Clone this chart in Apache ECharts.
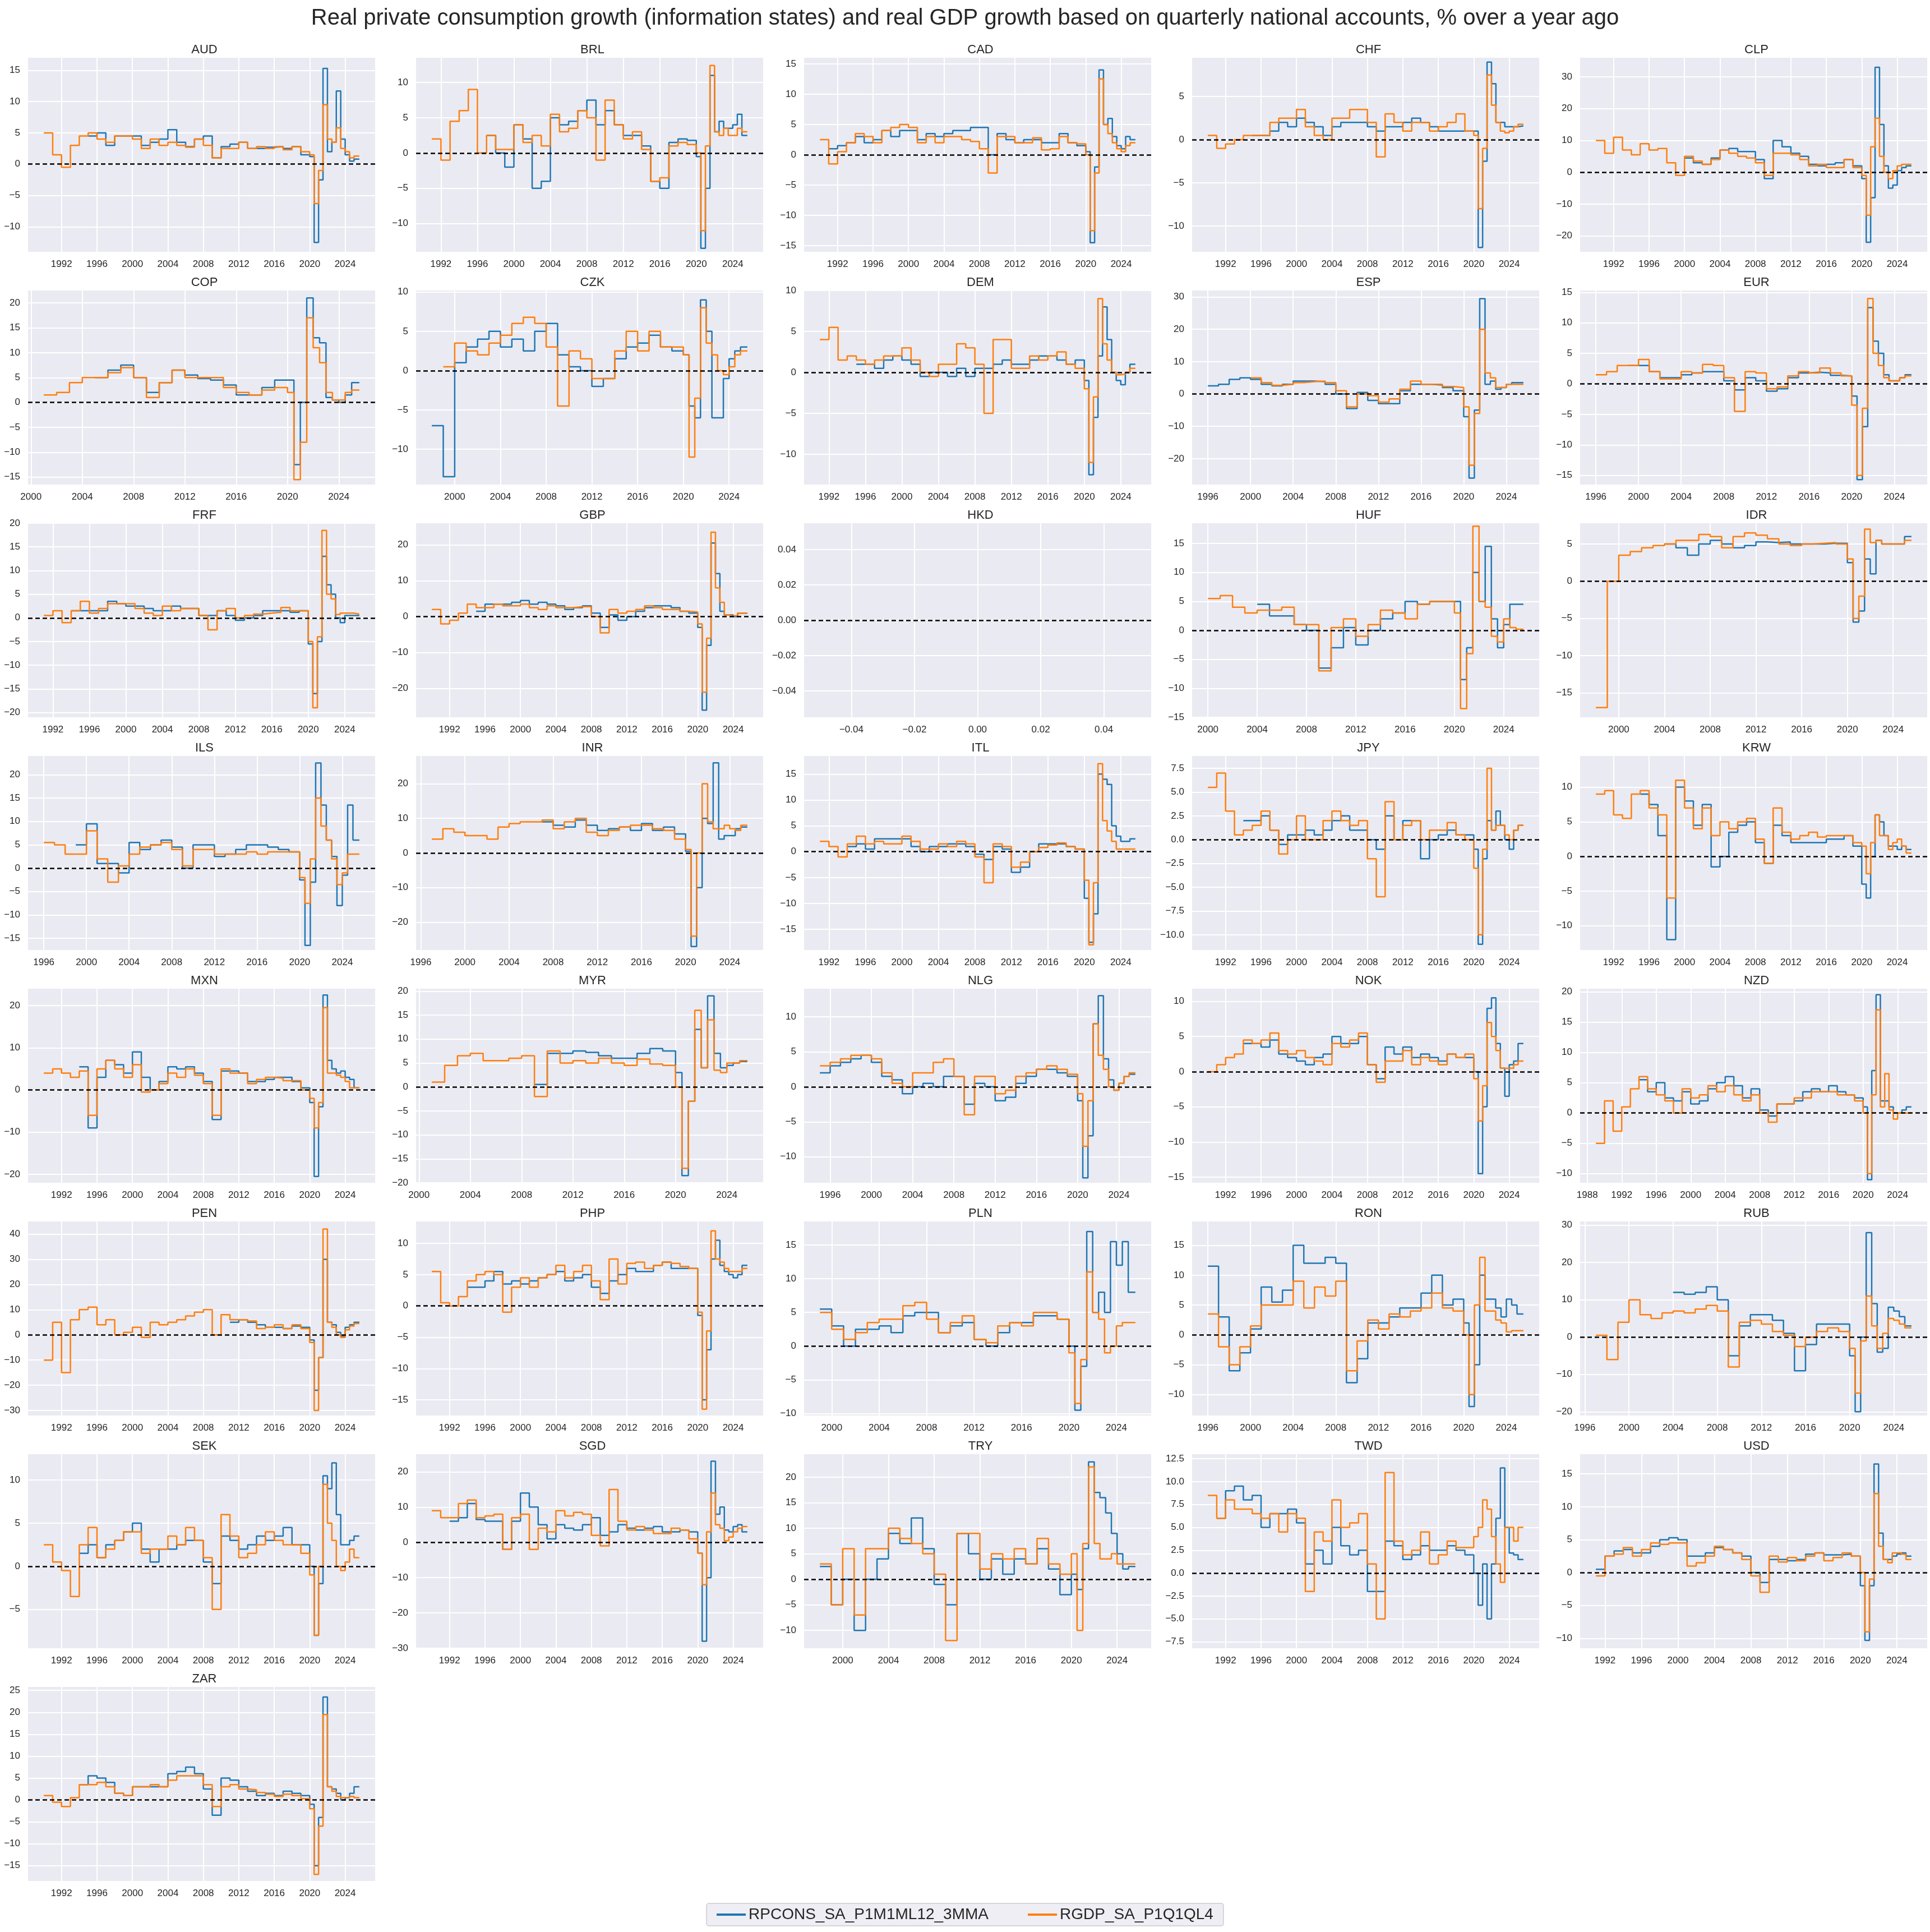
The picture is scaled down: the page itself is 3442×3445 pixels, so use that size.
<!DOCTYPE html>
<html><head><meta charset="utf-8">
<script src="https://cdn.jsdelivr.net/npm/echarts@6/dist/echarts.min.js"></script>
<style>html,body{margin:0;padding:0;background:#fff}#c{width:3442px;height:3445px}</style>
</head><body><div id="c"></div>
<script>
// Each series: yearly values ending with 2019, followed by 11 half-year values 2020.0 ... 2025.0
const AUD_C = [4.5,5,3,4.5,4.5,4.5,3,3.5,4,5.5,3.5,2.8,4,4.5,1,2.8,3.2,3.5,2.5,2.5,2.7,2.8,2.5,2.8,1.5, 1.2,-12.5,-2.5,15.3,2,3.5,11.7,4,1.5,0.5,0.8];
const AUD_G = [5,1.5,-0.5,3,4.5,5,4,3.5,4.5,4.5,4,2.5,4,3,3.5,3,2.7,4,3,1,2.5,2.5,3.5,2.5,2.8,2.5,2.8,2.3,2.8,2, 1.5,-6.3,-1,9.5,4,3.5,5.8,2.5,2,1,1.3];
const BRL_C = [2.5,0,-2,4,2,-5,-4,5,4,4.5,6,7.5,4,6,4,2.5,2.5,1,-4,-5,1.5,2,1.8, -0.5,-13.5,-5,11,3,4.5,3.5,3.5,4,5.5,2.5];
const BRL_G = [2,-1,4.5,6,9,0,2.5,0.5,0.5,4,1.5,2.5,1,5.5,3,3.5,6,5,-1,7.5,4,2,3,0.5,-4,-3.5,1,1.5,1.2, 0,-11,1,12.4,3,2.5,3.5,2.5,2.5,3.5,3];
const CAD_C = [1,1.5,2,3,2,2.5,4,3,4,4,2.5,3.5,3,3.5,4,4,4.5,4.5,0,3.5,2.5,2,2.5,2.5,2,2,3.5,2,1.5, 0.5,-14.5,-2,14,5,6,3,1.5,1,3,2.5];
const CAD_G = [2.5,-1.5,0.5,2,3.5,3,2,4,4.5,5,4.5,2,3,2,3,3,2.5,2.2,1,-3,3,3,2,2,2.8,0.8,1,3,2,1.8, 0,-12.5,-3,12.5,5,3.5,2,1,0.5,1.5,2];
const CHF_C = [0.5,0.5,1,2,1.5,2.5,2,1.5,0.5,1.5,2,2,2,1.5,1,1.5,1.5,2,2.5,2,1.5,1,1,1,1, 1,-12.5,-2.5,9,6.5,2,2,1.5,1.5,1.5,1.6];
const CHF_G = [0.5,-1,-0.5,0,0.5,0.5,0.5,2,2.5,2.5,3.5,1.5,0.5,0,2.5,2.5,3.5,3.5,2,-2,3,2,1,2,2,1,1.5,2,3,1, 0.5,-8,-1,7.5,4,2,1,0.8,1,1.5,1.8];
const CLP_C = [4.5,3,2.5,4.5,7,7.5,6.5,6.5,4,-2,10,8,6,5,2.5,2,2.5,3,4,2, -2,-22,-8,33,15,2,-5,-4,0.5,1.5,2];
const CLP_G = [10,6,11,7,5.5,9,7,7.5,3,-1,5,3.5,2.5,4,7,6,5,4.5,3,-1,6,6,5.5,4,2,2.5,1.5,1.5,4,1.5, -1,-13.5,8,17,5,0,-2,0.5,2,2.5,2.5];
const COP_C = [5,6.5,7.5,5,2,4,6.5,5.5,4.8,4.5,3.5,1.5,1.5,3,4.5, 4.5,-12.5,0,21,13,12,1,0.5,0,1.5,4];
const COP_G = [1.5,2,4,5,5,6,7,5,1,4,6.5,5,5,5,3,2,1.5,2.5,3, 2,-15.5,-8,17,11,8,2,0.5,0.5,2,2.5];
const CZK_C = [-7,-13.5,1,3,4,5,3,4,2.5,5,6,2,0.5,0,-2,-1,1.5,3,3.5,4.5,3,2.5, 2,-4.5,-6,9,5,-6,-6,-1,1.5,2.5,3];
const CZK_G = [0.5,3.5,2.5,2,3.5,4.5,6,6.8,6,3,-4.5,2.5,1.5,-1,-1,2.5,5,2.5,5,3,3, 2,-11,-3.5,8,3.5,2,0,-0.5,0.5,2,2.5];
const DEM_C = [1,1,0.5,1.5,2,1.5,1,-0.5,0,0,-0.5,0.5,-0.5,0.5,0.5,1,1.5,1,1,1.5,2,2,1.5,1,1.5, -1,-12.5,-5.5,2,8,4,0,-1,-1.5,0,1];
const DEM_G = [4,5.5,1.5,2,1.5,1,1.5,2,2,3,1.5,0,-0.5,1,1,3.5,3,1,-5,4,4,0.5,0.5,2,1.5,2,2.5,1,0.5, -2,-11,-3,9,3.5,1.5,0,-0.3,-0.2,0,0.5];
const ESP_C = [2.5,3,4.5,5,4.5,3,2.5,3,4,4,3.8,3,0,-4.5,0.5,-2,-3,-3,1,3,3,2.8,2,1, -7,-26,-5,29.5,3,4,1.5,2,3,3.5,3.5];
const ESP_G = [5,3.5,2.7,3,3.5,3.8,4,3.5,1,-4,0,-0.5,-2.5,-1.5,1.5,4,3,3,2.3,2, -4,-22,-6,20,6.5,5,2,2,3,3,3];
const EUR_C = [3,3,2,1,1,1.5,1.8,2,2,0.5,-1,1,0.5,-1.2,-0.8,1,1.8,1.9,1.8,1.4,1.3, -2,-15.7,-7,12.5,7,5,1.5,0.5,0.5,1,1.5];
const EUR_G = [1.5,2,3,3,4,2,0.8,0.8,2,1.8,3.2,3,1,-4.5,2,1.8,-0.8,-0.5,1.3,2,1.8,2.6,1.8,1.3, -3.5,-15,-4,14,5,3,1,0.5,0.5,1,1.3];
const FRF_C = [1.5,1.5,1.5,1.5,3.5,3,2.5,2.5,2,1.5,1.5,2.5,2,2,0.5,0.5,1.5,0.5,-0.5,0,0.5,1.5,1.5,1.5,1.2,1.5, -5.5,-16,-5,13,7,5,0,-1,0.5,0.5,0.5];
const FRF_G = [0.5,1.5,-1,1.5,3.5,1,2,3,3,3,2,1,0.5,2.5,1.5,2,2,0.5,-2.5,1.5,2,0,0.5,0.8,1,1.2,2.2,1.5,1.5, -5,-19,-4,18.5,5,4,0.7,1,1,1,0.8];
const GBP_C = [1.5,3.5,3.5,3.5,4,4.5,3.5,4,3.5,3,2,2.5,3,1,-3,0.5,-1,0,1.5,2.5,3,3,2.5,1.5,1, -3,-26,-8,20.5,12,1.5,0.5,0.5,0,1,1];
const GBP_G = [2,-2,-1,1,3.5,2.5,2.5,3.5,3,3,3.5,2.5,2,3,2.5,2.5,2.8,2.8,0,-4.5,2,1,1.5,2,3,2.5,2,2,1.5,1.3, -2,-21,-6,23.5,8,4,0.5,0.2,0.3,1,1];
const HKD_C = [];
const HKD_G = [];
const HUF_C = [4.5,2.5,2.5,1,0,-6.5,-3,0.5,-2.5,0,2,3,5,4.5,5,5, 5,-8.5,-3,10,5,14.5,2,-3,1,4.5,4.5];
const HUF_G = [5.5,6,4,3,3.5,3.5,4,1,1,-7,0.5,2,-1,1,3.5,3,2,4.5,5,5, 3,-13.5,-4,18,5,4,-1,-2,2,0.5,0.2];
const IDR_C = [5,4.5,3.5,5,5.5,5,4.5,4.8,5.3,5.2,5.3,5,5,5,5.1,5.1, 2.5,-5.5,-4,3,1,5.5,5,5,5,5,6];
const IDR_G = [-17,0,3.5,4,4.5,4.8,5,5.5,5.5,6.3,6,4.5,6,6.5,6.2,5.7,5,4.8,5,5.1,5.2,5, 3,-5,-2,7,5.2,5.5,5,5,5,5,5.5];
const ILS_C = [5,9.5,1,1,-1,5.5,4,5,6,4.5,0,5,5,2.5,3,4,5,5,4.5,4,3.5, -2.5,-16.5,-3,22.5,13.5,6,2.5,-8,-1.5,13.5,6];
const ILS_G = [5.5,5,3,3,8,2,-3,0.5,3,4.5,5,5.5,4,0.5,4,4,3,3,3,3.5,3,3.5,3.5,3.5, -2,-7.5,2,15,9,6,2,-3.5,-1,3,3];
const INR_C = [9,8,7.5,9.5,8,6.5,7,7.5,6.5,8.5,6.5,7.5,5.5, 0.5,-27,-10,10,8.5,26,4,5,5,7,7.5];
const INR_G = [4,7,6,5,5,4,7.5,8.5,9,9,9.5,7,9,10,6,5,6.5,7.5,8,8,7,6.5,4, 1,-24,0,20,9,7,7,8,7,6.5,8];
const ITL_C = [1,1.5,0.5,2.5,2.5,2.5,2.5,1,0,1,1,1.5,1.5,1,-0.5,-1.5,1,0.5,-4,-3,0,1.5,1.5,1.5,1,0.5, -9,-17.5,-12,15,14,13,5,3,2,2,2.5];
const ITL_G = [2,1,-1,1.5,3,1.5,2,1.5,1.5,3,2,0.5,0.5,1.5,1,2,1.5,-1,-6,1.5,1,-3,-2,0,0.8,1.3,1.7,1,0.5, -5.5,-18,-6,17,6,4,2,0.5,0.5,0.5,0.5];
const JPY_C = [2,2,2.5,1,-0.5,0.5,0.5,1,0.5,1,2,2.5,1,1,0,-1,2.5,0,2,2,-2,0,0.5,1,0.5,0.5, -1,-11,-2,2,1,3,1.5,0,-1,1,1.5];
const JPY_G = [5.5,7,3,0.5,1,1.5,3,1,-1.5,0,2.5,0,0,2,3,2,1.5,2,-2,-6,4,0,1.5,2,0,1,1,1.8,0.5,0, -3,-10,-1,7.5,1,1.5,1.5,0.5,0,1,1.5];
const KRW_C = [9,7.5,3,-12,10,8,4.5,7.5,-1.5,0,3.5,4.5,5,2,-1,4.5,3,2,2,2,2,2.5,2.5,3,1.5, -4,-6,0,6,5,3,1.5,1.5,1,1.5,1];
const KRW_G = [9,9.5,6,5.5,9,9.5,7,6,-6,11,7,4,7,3,5,4,5,5.5,2.5,-1,7,3.5,2.5,3,3.5,2.8,3,3,3,2, 1.5,-2.5,2,6,3,3,1,2,2.5,1.5,0.5];
const MXN_C = [5.5,-9,3,7,6,4,9,3,0,2,5.5,5,5.5,4,2,-7,4.5,4.5,4,2,2,2.5,3,3,2,0.5, -3,-20.5,-4,22.5,7,5,4,4.5,3,2.5,0.5];
const MXN_G = [4,5,4,3,4.5,-6,5,7,5,3,6,-0.5,0,1.5,4,3,5,3.5,1.5,-6,5,4,4,1.5,2.5,3,2.8,2.2,2.2,0, -2,-9,-3,19.5,4,4,3.5,3,2,0.5,0.5];
const MYR_C = [0.5,7,7,7.5,7.2,6.5,6,6,7,8,7.5, 3,-18.5,-3,12,4,19,7,4,4.5,5,5.3];
const MYR_G = [1,4.5,6.5,7,5.5,5.5,6,6.5,-2,7.5,5,5.5,5,6,5,4.5,5.8,4.8,4.5, 0,-17,-3,16,4,14,3.5,3,5,5,5.5];
const NLG_C = [2,3,3.5,4,4.5,3.5,1.5,1,-1,0,0.5,0,1.5,1.5,-2.5,0.5,0,-2,-1.5,0.5,1.5,2.5,2.5,2,1.5, -2,-13,-7,9,13,4,1,-0.5,0.5,1.5,1.8];
const NLG_G = [3,3.5,4,4.5,4.5,4,2,0.5,0,2,2,3.5,4,1.5,-4,1.5,1.5,-1,-0.5,1.5,2,2.5,3,2.5,1.8, -1,-8.5,-2,9,4.5,2.5,0,-0.5,0.5,1.5,2];
const NOK_C = [4,4,3.5,4.5,2.5,2,1.5,1,2,2.5,5,4,4,5,1,-1,3.5,2.5,3.5,2,2.5,2,1.5,2.5,2,2, 0,-14.5,-5,9,10.5,4,0.5,-3.5,1,1.5,4];
const NOK_G = [0,1,2,2.5,4.5,4,4.5,5.5,3,2.5,3,2,1.5,1,4,3.5,4.5,5.5,1,-1.5,1.5,1.5,3,1,2,1.5,1,2.5,2,2.5, -1,-7,-2,7,5,3,0.5,0.5,0.5,1,1.5];
const NZD_C = [5.5,3.5,5,2.5,2,3.5,1.5,2,4,5,6,4.5,2.5,4,0.5,-0.5,1.5,1.5,2,3.5,4,3.5,4.5,3.5,3,2.5, 1,-11,7,19.5,2,2,1,0,0,0.5,1];
const NZD_G = [-5,2,-3,1,4,6,4,3,2,0,4,2.5,3,4.5,3.5,4.5,3,2,3,0,-1.5,1.5,1.5,2.5,2.5,3.5,3.5,3.5,3,3,2, 0,-10,3,17,1,6.5,0.5,-1,0,0,0];
const PEN_C = [5,6,5,4,3,3,2.5,3.5,3, -2,-22,-9,30,5,4,1,-0.5,3,4,5];
const PEN_G = [-10,5,-15,6,10,11,4,6,0,1,3,-1,5,4,5,6,7.5,9,10,0,8,6,6,5.5,2.5,3,4,2.5,4,2.5, -3,-30,-9,42,5,3,0,-1,2,3.5,4.5];
const PHP_C = [3,3,4,5.5,3.5,4,3.5,4,4.5,5,5.5,4,4.5,5,3,2,4,5,6,5.5,5.5,6.5,7,6,6,6, -1.5,-15,-7,7.5,10.5,6.5,5.5,5,4.5,5,6.5];
const PHP_G = [5.5,0.5,0,1.5,4,5,5.5,5,-1,3,4.5,3,4.5,5,6.5,4.5,5.5,6.5,4,1,7.5,3.5,6.8,7,6,6.5,7,6.8,6.3,6, -1,-16.5,-4,12,7.5,7,6,5.5,5.5,5.5,6];
const PLN_C = [5.5,3,0,2.5,2.5,3,2,4.5,5,5,2,3,3.5,1,0,2,3.5,3.5,4.5,4.5,4, 0,-9.5,-3,17,5,8,5,15.5,12,15.5,8];
const PLN_G = [5,2.5,1,2,3.5,4,4,6,6.5,4,2,3.5,4.5,1,0.5,3,3.5,3,5,5,4, -1,-8.5,-2,11,5,4,-1,0,3,3.5,3.5];
const RON_C = [11.5,3,-6,-3,1,8,5.5,7.5,15,12,12,13,12,-8,-4,2,2,3,4.5,4.5,7,10,5,6, 2,-12,-5,10,6,6,4.5,3,6,5,3.5];
const RON_G = [3.5,-2,-5,-2,1.5,5,5,5,9,4.5,8,6.5,9,-6,-1,2.5,1,3.5,3,4,4.5,7,4.5,4, 0,-10,5,13,4,4,2.5,2,0.5,0.7,0.7];
const RUB_C = [12,11.5,12,13.5,10,-5,3,6,6,4.5,1,-9,-2,3.5,3.5,3.5, -5,-20,0,28,9,-4,-3,8,7,5.5,3];
const RUB_G = [0.5,-6,4,10,6,5,6.5,7,6.5,7.5,8.5,7,-8,4,4.5,3.5,1.5,0.5,-2.5,0,1.5,2.5,1.5, -3,-15,-1,11,3,-3,1,5,4.5,3.5,2.5];
const SEK_C = [1.5,2.5,1,2.5,3,4,5,2,0.5,2,2,2.5,3,3,0.5,-2,3.5,3,2,2.5,3.5,3,3.5,4.5,2.5,2.5, 0,-8,-2,10.5,9,12,6,2.5,2.5,3,3.5];
const SEK_G = [2.5,0.5,-0.5,-3.5,2.5,4.5,1,2,3,4,4,1.5,2,2,3.5,2.5,4.5,3,1,-5,6,3.5,1,1.5,2.5,4,3,2.5,2.5,1.5, -1,-8,0,9.5,5,3,0,-0.5,0.5,2,1];
const SGD_C = [6,7,11,6.5,6,6,-2,6,14,10,5,1,5,4,3.5,5,7,2,3,5,4,3.5,4,4.5,3,3,3.5,3, -3,-28,-10,23,8,10,3.5,3,4.5,5,3];
const SGD_G = [9,7,7,11,12,7,7.5,8,-2,7,8,-2,4,3,9,7.5,8.5,8,2,-1,15,6,3.5,4.5,3.5,2.5,2.5,4,3.5,1, -3,-12,3,14,5,4,0.5,1.5,3,4,4.5];
const TRY_C = [2.5,-5,0,-10,0,4,9,7,12,6,-1,-5,9,5,0,4,1,4,3,6,2,-3, 1,-2,6,23,17,16,13,9,5,2,2.5];
const TRY_G = [3,-5,6,-7,6,6,10,8,7,5,1,-12,9,9,2,5,4,6,3,8,3,1, 5,-10,7,22,7,4,4,5,3,3,3];
const TWD_C = [6,9,9.5,8,8.5,5,6.5,6.5,7,5.5,1,2.5,1,5,3,2,2.5,-2,-2,3.5,3,1.5,2,3,2.5,2.5,3,2.5,2, 0,-3.5,1,-5,1,6,11.5,5,2.2,2,1.5];
const TWD_G = [8.5,6,8,7,7,6.5,6,6.5,4.5,6.5,6,-2,4.5,3.5,8,5,5.5,6.5,1,-5,11,3.5,2,2.5,4.5,1,2,3.5,2.8,2.8, 4,5,8,7,4,1,-1,5,5,3.5,5];
const USD_C = [0.5,2.5,3.3,3.5,3,3,4,5,5.3,5,2.5,2.5,3,3.8,3.5,3,2.5,0,-1.5,2,2,1.8,2,2.8,3,2.7,2.7,2.8,2.5, -2,-10.3,-2,16.5,6,2,2,2.5,2.8,3,2.5];
const USD_G = [-0.5,2.5,2.8,3.8,2.5,3.5,4.5,4.3,4.5,4.5,1,1.5,2.5,4,3.5,3,2,-0.5,-3,2.5,1.6,2.3,1.8,2.5,3,1.8,2.3,3,2.5, 0,-9,-1,12,4,2,1.5,3,3,2.8,2];
const ZAR_C = [3.5,5.5,5,4,1.5,1,3,3,3,3,6,6.5,7.5,6,2.5,-3.5,5,4.5,3,2,1,1.5,1,2,1.5,1, -1,-15,-4,23.5,3,2.5,1.5,0,0.5,1.5,3];
const ZAR_G = [1,-0.5,-1.5,0.5,3.5,3.5,4,3,1.5,1,3,3,3.5,3,4.5,5.5,5.5,5.5,3.5,-1.5,3,3.5,2.5,2.3,1.7,1.3,0.8,1.3,1,0.3, -2,-17,-6,19.5,3,2,0.8,0.5,0.5,0.8,0.5];

const NAMES = ['AUD','BRL','CAD','CHF','CLP','COP','CZK','DEM','ESP','EUR','FRF','GBP','HKD','HUF','IDR','ILS','INR','ITL','JPY','KRW','MXN','MYR','NLG','NOK','NZD','PEN','PHP','PLN','RON','RUB','SEK','SGD','TRY','TWD','USD','ZAR'];
const CONS = [AUD_C,BRL_C,CAD_C,CHF_C,CLP_C,COP_C,CZK_C,DEM_C,ESP_C,EUR_C,FRF_C,GBP_C,HKD_C,HUF_C,IDR_C,ILS_C,INR_C,ITL_C,JPY_C,KRW_C,MXN_C,MYR_C,NLG_C,NOK_C,NZD_C,PEN_C,PHP_C,PLN_C,RON_C,RUB_C,SEK_C,SGD_C,TRY_C,TWD_C,USD_C,ZAR_C];
const GDP = [AUD_G,BRL_G,CAD_G,CHF_G,CLP_G,COP_G,CZK_G,DEM_G,ESP_G,EUR_G,FRF_G,GBP_G,HKD_G,HUF_G,IDR_G,ILS_G,INR_G,ITL_G,JPY_G,KRW_G,MXN_G,MYR_G,NLG_G,NOK_G,NZD_G,PEN_G,PHP_G,PLN_G,RON_G,RUB_G,SEK_G,SGD_G,TRY_G,TWD_G,USD_G,ZAR_G];
const Y_MIN = [-14,-14,-16,-13,-25,-16.5,-14.5,-13.7,-28,-16.5,-21,-28,-0.055,-15,-18.3,-17.5,-28,-19,-11.6,-13.5,-22,-20,-13.7,-15.8,-11.5,-32,-17.5,-10.3,-13.5,-21,-9.5,-30,-13.5,-8.2,-11.5,-18.5];
const Y_MAX = [17,13.5,16,9.5,36,22.5,10.2,10,32,15.3,20,26,0.055,18.5,7.8,24,28,18.5,8.8,14.5,24,20.5,14,11.8,20.5,45,13.5,18.5,19,31,13,25,24.5,13,18,25.8];
const Y_STEP = [5,5,5,5,10,5,5,5,10,5,5,10,0.02,5,5,5,10,5,2.5,5,10,5,5,5,5,10,5,5,5,10,5,10,5,2.5,5,5];
const LAST_X = 2025.6;

function toPoints(v){
  if (!v.length) return [];
  const nY = v.length - 11, pts = [];
  for (let k=0;k<nY;k++) pts.push([2019-(nY-1-k), v[k]]);
  for (let j=0;j<11;j++) pts.push([2020+0.5*j, v[nY+j]]);
  pts.push([LAST_X, v[v.length-1]]);
  return pts;
}
function fmt(v,step){
  const d = step<0.1?2:(step%1!==0?1:0);
  let s = v.toFixed(d); if (Math.abs(v)<1e-9) s=(0).toFixed(d);
  return s.replace('-','\u2212');
}
const FONT = '"Liberation Sans", Arial, sans-serif';
const grids=[],xAxes=[],yAxes=[],series=[],titles=[];
titles.push({text:'Real private consumption growth (information states) and real GDP growth based on quarterly national accounts, % over a year ago',left:'center',top:8,textStyle:{fontFamily:FONT,fontSize:40,fontWeight:'normal',color:'#262626'}});
NAMES.forEach((name,i)=>{
  const col=i%5,row=Math.floor(i/5);
  const left=50+col*692, top=103+row*415, W=619, H=346;
  grids.push({left,top,width:W,height:H,show:true,backgroundColor:'#EAEAF2',borderWidth:0,containLabel:false});
  titles.push({text:name,left:left+W/2,top:top-30,textAlign:'center',textStyle:{fontFamily:FONT,fontSize:22,fontWeight:'normal',color:'#262626'}});
  const c=toPoints(CONS[i]), g=toPoints(GDP[i]);
  const isH = !c.length&&!g.length;
  let xmin,xmax,xt=[];
  if(isH){xmin=-0.055;xmax=0.055;xt=[-0.04,-0.02,0,0.02,0.04];}
  else{
    const s=Math.min(c.length?c[0][0]:9999,g.length?g[0][0]:9999);
    const r=LAST_X-s; xmin=s-0.05*r; xmax=LAST_X+0.05*r;
    for(let y=Math.ceil(xmin/4)*4;y<=xmax;y+=4) xt.push(y);
  }
  const yt=[]; const st=Y_STEP[i];
  for(let y=Math.ceil(Y_MIN[i]/st-1e-9)*st;y<=Y_MAX[i]+1e-9;y+=st) yt.push(+y.toFixed(4));
  xAxes.push({type:'value',gridIndex:i,min:xmin,max:xmax,
    axisLine:{show:false},axisTick:{show:false,customValues:xt},
    splitLine:{show:true,lineStyle:{color:'#fff',width:2}},
    axisLabel:{customValues:xt,color:'#262626',fontSize:17,fontFamily:FONT,margin:14,
      formatter:v=>isH?fmt(v,0.02):String(Math.round(v))}});
  yAxes.push({type:'value',gridIndex:i,min:Y_MIN[i],max:Y_MAX[i],
    axisLine:{show:false},axisTick:{show:false,customValues:yt},
    splitLine:{show:true,lineStyle:{color:'#fff',width:2}},
    axisLabel:{customValues:yt,color:'#262626',fontSize:17,fontFamily:FONT,margin:14,formatter:v=>fmt(v,st)}});
  series.push({name:'RPCONS_SA_P1M1ML12_3MMA',type:'line',xAxisIndex:i,yAxisIndex:i,data:c,step:'end',showSymbol:false,symbol:'none',lineStyle:{color:'#1f77b4',width:2.5},itemStyle:{color:'#1f77b4'},z:3,animation:false});
  series.push({name:'RGDP_SA_P1Q1QL4',type:'line',xAxisIndex:i,yAxisIndex:i,data:g,step:'end',showSymbol:false,symbol:'none',lineStyle:{color:'#ff7f0e',width:2.5},itemStyle:{color:'#ff7f0e'},z:4,animation:false});
  series.push({name:'zero',type:'line',xAxisIndex:i,yAxisIndex:i,data:[],z:5,animation:false,
    markLine:{silent:true,symbol:'none',label:{show:false},lineStyle:{color:'#000',width:2.5,type:[8,5]},data:[{yAxis:0}],animation:false}});
});
const chart=echarts.init(document.getElementById('c'),null,{renderer:'canvas'});
chart.setOption({animation:false,backgroundColor:'#fff',title:titles,grid:grids,xAxis:xAxes,yAxis:yAxes,series,
  legend:{data:['RPCONS_SA_P1M1ML12_3MMA','RGDP_SA_P1Q1QL4'],left:'center',top:3394,itemWidth:52,itemHeight:4,itemGap:70,
    icon:'rect',textStyle:{fontFamily:FONT,fontSize:28,color:'#262626'},backgroundColor:'#EEEEF4',borderColor:'#cccccc',borderWidth:1.5,borderRadius:4,padding:[6,18]}});
</script></body></html>
